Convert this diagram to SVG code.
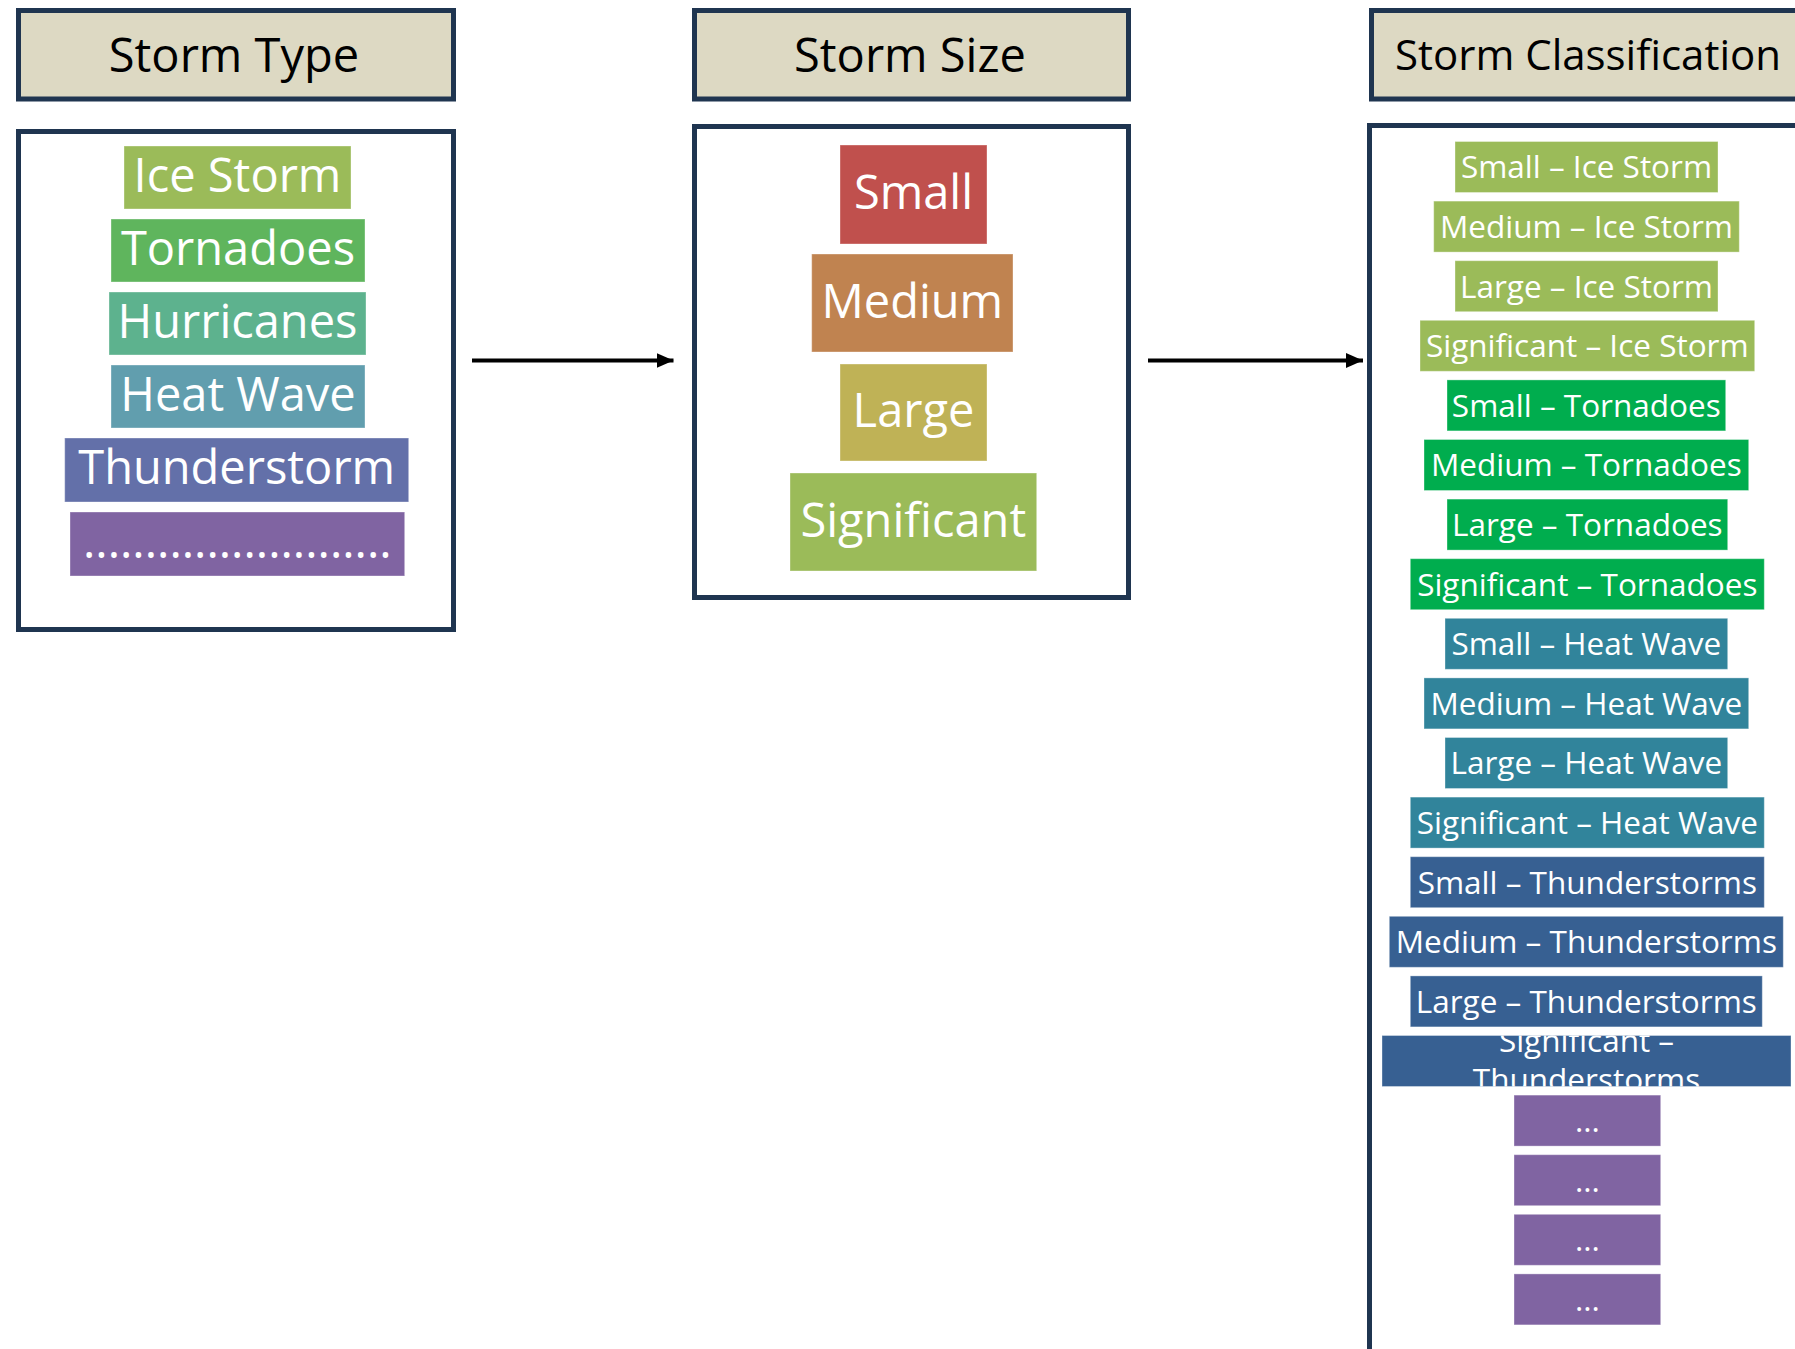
<svg xmlns="http://www.w3.org/2000/svg" width="1795" height="1349" viewBox="0 0 1795 1349">
<style>
.hdr{fill:#DDD9C3;stroke:#1F3550;stroke-width:5}
.panel{fill:#FFFFFF;stroke:#1F3550;stroke-width:5}
.ht{font-family:"Open Sans","Noto Sans",sans-serif;fill:#000;text-anchor:middle}
.it{font-family:"Open Sans","Noto Sans",sans-serif;fill:#FFFFFF;text-anchor:middle}
.big{font-size:47px}
.sm{font-size:31.5px}
.box{stroke:#FFFFFF;stroke-opacity:0.35;stroke-width:1}
.conn{stroke:#000;stroke-width:4;fill:none}
</style>
<defs>
<marker id="ah" markerWidth="17" markerHeight="15" refX="17" refY="7.5" orient="auto" markerUnits="userSpaceOnUse">
<path d="M0,0 L17,7.5 L0,15 Z" fill="#000"/>
</marker>
<clipPath id="clipST"><rect x="1382" y="1035.5" width="409" height="51"/></clipPath>
</defs>

<g id="col-storm-type">
<g id="hdr-storm-type"><rect class="hdr" x="18.5" y="10.5" width="435" height="88.5"/><text class="ht big" x="234" y="72">Storm Type</text></g>
<g id="panel-storm-type"><rect class="panel" x="18.5" y="131.5" width="435" height="498"/></g>
<g id="t-ice"><rect class="box" x="124" y="146" width="227" height="63" fill="#9BBB59"/><text class="it big" x="237.5" y="191.5">Ice Storm</text></g>
<g id="t-tornadoes"><rect class="box" x="111" y="219" width="254" height="63" fill="#5FB55D"/><text class="it big" x="238" y="264.5">Tornadoes</text></g>
<g id="t-hurricanes"><rect class="box" x="109" y="292" width="257" height="63" fill="#5DB28E"/><text class="it big" x="237.5" y="337.5">Hurricanes</text></g>
<g id="t-heat"><rect class="box" x="111" y="365" width="254" height="63" fill="#619EAE"/><text class="it big" x="238" y="410.5">Heat Wave</text></g>
<g id="t-thunder"><rect class="box" x="64.7" y="438" width="344" height="64" fill="#6370A9"/><text class="it big" x="236.7" y="484">Thunderstorm</text></g>
<g id="t-more"><rect class="box" x="70" y="512" width="334.7" height="64" fill="#8064A2"/><text class="it big" x="237.3" y="558">.........................</text></g>
</g>

<g id="col-storm-size">
<g id="hdr-storm-size"><rect class="hdr" x="694.5" y="10.5" width="434" height="88.5"/><text class="ht big" x="910" y="72">Storm Size</text></g>
<g id="panel-storm-size"><rect class="panel" x="694.5" y="126.5" width="434" height="471"/></g>
<g id="s-small"><rect class="box" x="840" y="145" width="147" height="99" fill="#C0504D"/><text class="it big" x="913.5" y="209">Small</text></g>
<g id="s-medium"><rect class="box" x="811.7" y="254" width="201.3" height="98" fill="#C08350"/><text class="it big" x="912.3" y="317.5">Medium</text></g>
<g id="s-large"><rect class="box" x="840" y="364" width="147" height="97" fill="#BFB256"/><text class="it big" x="913.5" y="427">Large</text></g>
<g id="s-significant"><rect class="box" x="790" y="473" width="246.7" height="98" fill="#9BBB59"/><text class="it big" x="913.3" y="536.5">Significant</text></g>
</g>

<g id="col-classification">
<g id="hdr-classification"><rect class="hdr" x="1371.5" y="10.5" width="500" height="88.5"/><text class="ht" font-size="42" x="1588" y="69.5">Storm Classification</text></g>
<g id="panel-classification"><rect class="panel" x="1369.5" y="125.5" width="500" height="1300"/></g>
<g id="c1"><rect class="box" x="1455" y="141.5" width="263" height="51" fill="#9BBB59"/><text class="it sm" x="1586.5" y="178.3">Small – Ice Storm</text></g>
<g id="c2"><rect class="box" x="1433.7" y="201.1" width="305.6" height="51" fill="#9BBB59"/><text class="it sm" x="1586.5" y="237.9">Medium – Ice Storm</text></g>
<g id="c3"><rect class="box" x="1455" y="260.7" width="263" height="51" fill="#9BBB59"/><text class="it sm" x="1586.5" y="297.5">Large – Ice Storm</text></g>
<g id="c4"><rect class="box" x="1420" y="320.3" width="334.7" height="51" fill="#9BBB59"/><text class="it sm" x="1587.3" y="357.1">Significant – Ice Storm</text></g>
<g id="c5"><rect class="box" x="1447" y="379.9" width="278.7" height="51" fill="#00AD4E"/><text class="it sm" x="1586.3" y="416.7">Small – Tornadoes</text></g>
<g id="c6"><rect class="box" x="1424" y="439.5" width="324.7" height="51" fill="#00AD4E"/><text class="it sm" x="1586.3" y="476.3">Medium – Tornadoes</text></g>
<g id="c7"><rect class="box" x="1447" y="499.1" width="280.7" height="51" fill="#00AD4E"/><text class="it sm" x="1587.3" y="535.9">Large – Tornadoes</text></g>
<g id="c8"><rect class="box" x="1410.3" y="558.7" width="354" height="51" fill="#00AD4E"/><text class="it sm" x="1587.3" y="595.5">Significant – Tornadoes</text></g>
<g id="c9"><rect class="box" x="1445" y="618.3" width="282.7" height="51" fill="#31849B"/><text class="it sm" x="1586.3" y="655.1">Small – Heat Wave</text></g>
<g id="c10"><rect class="box" x="1424" y="677.9" width="324.7" height="51" fill="#31849B"/><text class="it sm" x="1586.3" y="714.7">Medium – Heat Wave</text></g>
<g id="c11"><rect class="box" x="1445" y="737.5" width="282.7" height="51" fill="#31849B"/><text class="it sm" x="1586.3" y="774.3">Large – Heat Wave</text></g>
<g id="c12"><rect class="box" x="1410.3" y="797.1" width="354" height="51" fill="#31849B"/><text class="it sm" x="1587.3" y="833.9">Significant – Heat Wave</text></g>
<g id="c13"><rect class="box" x="1410.3" y="856.7" width="354" height="51" fill="#376092"/><text class="it sm" x="1587.3" y="893.5">Small – Thunderstorms</text></g>
<g id="c14"><rect class="box" x="1389.3" y="916.3" width="394" height="51" fill="#376092"/><text class="it sm" x="1586.3" y="953.1">Medium – Thunderstorms</text></g>
<g id="c15"><rect class="box" x="1410.3" y="975.9" width="352" height="51" fill="#376092"/><text class="it sm" x="1586.3" y="1012.7">Large – Thunderstorms</text></g>
<g id="c16"><rect class="box" x="1382" y="1035.5" width="409" height="51" fill="#376092"/><g clip-path="url(#clipST)"><text class="it sm" x="1586.5" y="1051.7">Significant –</text><text class="it sm" x="1586.5" y="1090.7">Thunderstorms</text></g></g>
<g id="c17"><rect class="box" x="1514" y="1095.1" width="146.7" height="51" fill="#8064A2"/><text class="it sm" x="1587.3" y="1131.9">...</text></g>
<g id="c18"><rect class="box" x="1514" y="1154.7" width="146.7" height="51" fill="#8064A2"/><text class="it sm" x="1587.3" y="1191.5">...</text></g>
<g id="c19"><rect class="box" x="1514" y="1214.3" width="146.7" height="51" fill="#8064A2"/><text class="it sm" x="1587.3" y="1251.1">...</text></g>
<g id="c20"><rect class="box" x="1514" y="1273.9" width="146.7" height="51" fill="#8064A2"/><text class="it sm" x="1587.3" y="1310.7">...</text></g>
</g>

<g id="connectors">
<line class="conn" x1="472" y1="360.5" x2="673.5" y2="360.5" marker-end="url(#ah)"/>
<line class="conn" x1="1148" y1="360.5" x2="1363" y2="360.5" marker-end="url(#ah)"/>
</g>
</svg>
